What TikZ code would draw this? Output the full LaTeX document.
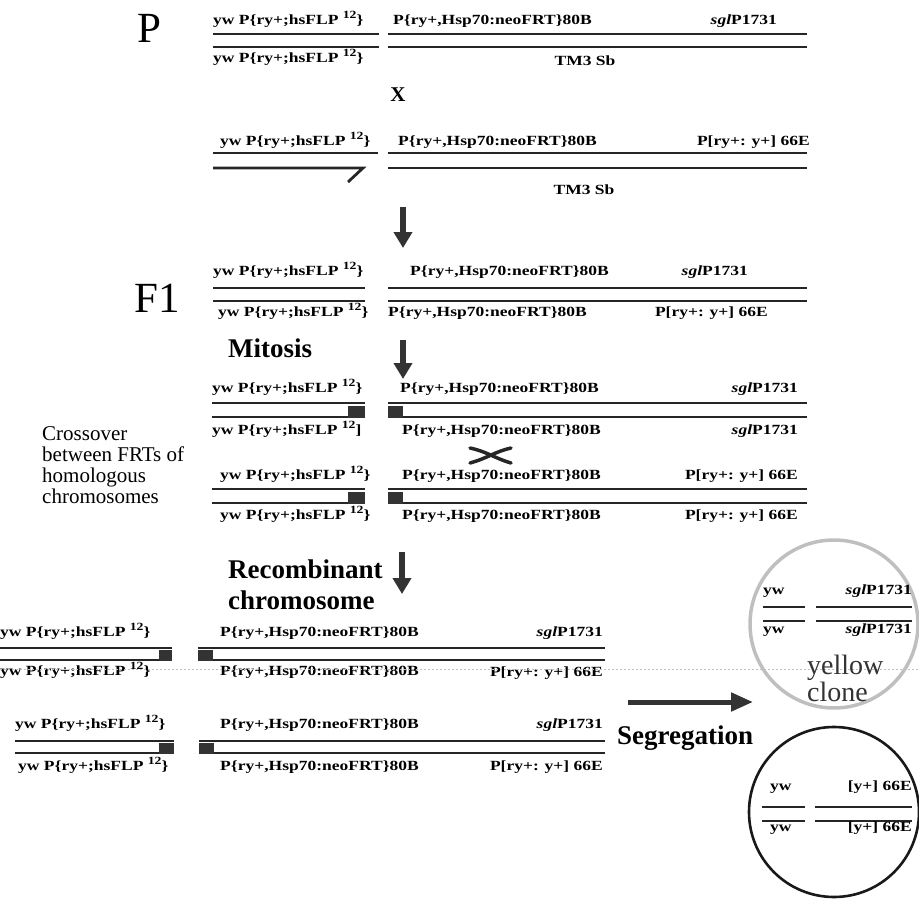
\documentclass[tikz,border=0pt]{standalone}
\usepackage{fontspec}
\setmainfont{Liberation Serif}
\newfontfamily\genefont[FakeStretch=1.25]{Liberation Serif}
\usetikzlibrary{arrows.meta}
% genotype strings
\newcommand\sups[1]{\raisebox{0.4em}{\fontsize{11}{11}\selectfont #1}}
\newcommand\ywflp{yw P\{ry+;hsFLP \sups{12}\}}
\newcommand\neofrt{P\{ry+,Hsp70:neoFRT\}80B}
\newcommand\sglp{\textit{sgl}P1731}
\newcommand\ryE{P[ry+: y+] 66E}
\begin{document}
\begin{tikzpicture}[x=1pt,y=-1pt,
  gene/.style={font=\genefont\bfseries\fontsize{14}{16}\selectfont, inner sep=0pt},
  chrom/.style={line width=2.8pt, draw=black!85},
  frt/.style={fill=black!80, draw=none},
  heading/.style={font=\bfseries\fontsize{27}{30}\selectfont, inner sep=0pt},
  gen/.style={font=\fontsize{43}{48}\selectfont, inner sep=0pt},
  note/.style={font=\fontsize{21}{21}\selectfont, inner sep=0pt},
  down/.style={line width=6pt, draw=black!80, -{Triangle[length=16pt,width=18pt]}},
  clone/.style={font=\fontsize{28}{22}\selectfont, inner sep=0pt, text=black!80}]
\useasboundingbox (0,0) rectangle (919,899);

% ---------- parental cross ----------
\node[gen] (P) at (149,28) {P};
\node[gene, anchor=mid west] (pa1) at (213,22) {\ywflp};
\node[gene, anchor=mid west] (pa2) at (393,22) {\neofrt};
\node[gene, anchor=mid east] (pa3) at (777,22) {\sglp};
\draw[chrom] (213,34) -- (379,34) (213,47) -- (379,47);
\draw[chrom] (388,34) -- (807,34) (388,47) -- (807,47);
\node[gene, anchor=mid west] (pb1) at (213,60) {\ywflp};
\node[gene] (pb2) at (585,61) {TM3 Sb};

\node[font=\bfseries\fontsize{21}{21}\selectfont, inner sep=0pt] (cross) at (398,95) {X};

\node[gene, anchor=mid west] (qa1) at (220,143) {\ywflp};
\node[gene, anchor=mid west] (qa2) at (398,143) {\neofrt};
\node[gene, anchor=mid east] (qa3) at (810,143) {\ryE};
\draw[chrom] (213,153) -- (378,153);
\draw[chrom, line join=miter] (213,168) -- (363,168) -- (348,182);
\draw[chrom] (388,153) -- (807,153) (388,168) -- (807,168);
\node[gene] (qb2) at (584,190) {TM3 Sb};

\coordinate (a1s) at (403,207);
\coordinate (a1e) at (403,248);
\draw[down] (a1s) -- (a1e);

% ---------- F1 ----------
\node[gen] (F1) at (157,298) {F1};
\node[gene, anchor=mid west] (fa1) at (213,273) {\ywflp};
\node[gene, anchor=mid west] (fa2) at (410,273) {\neofrt};
\node[gene, anchor=mid east] (fa3) at (748,273) {\sglp};
\draw[chrom] (213,288) -- (365,288) (213,301) -- (365,301);
\draw[chrom] (388,288) -- (807,288) (388,301) -- (807,301);
\node[gene, anchor=mid west] (fb1) at (218,314) {\ywflp};
\node[gene, anchor=mid west] (fb2) at (388,314) {\neofrt};
\node[gene, anchor=mid east] (fb3) at (768,314) {\ryE};

\node[heading, anchor=mid west] (mit) at (228,355) {Mitosis};
\coordinate (a2s) at (403,340);
\coordinate (a2e) at (403,379);
\draw[down] (a2s) -- (a2e);

% ---------- mitotic recombination ----------
\node[note, anchor=base west] (co1) at (42,440) {Crossover};
\node[note, anchor=base west] (co2) at (42,461) {between FRTs of};
\node[note, anchor=base west] (co3) at (42,482) {homologous};
\node[note, anchor=base west] (co4) at (42,503) {chromosomes};

\node[gene, anchor=mid west] (ma1) at (212,390) {\ywflp};
\node[gene, anchor=mid west] (ma2) at (400,390) {\neofrt};
\node[gene, anchor=mid east] (ma3) at (798,390) {\sglp};
\draw[chrom] (212,403) -- (365,403) (212,417) -- (365,417);
\draw[chrom] (388,403) -- (807,403) (388,417) -- (807,417);
\fill[frt] (348,406) rectangle (365,418);
\fill[frt] (388,406) rectangle (403,418);
\node[gene, anchor=mid west] (mb1) at (212,432) {yw P\{ry+;hsFLP \sups{12}]};
\node[gene, anchor=mid west] (mb2) at (402,432) {\neofrt};
\node[gene, anchor=mid east] (mb3) at (798,432) {\sglp};

\draw[line width=3.5pt, black!85, line cap=round] (470,448) .. controls (488,452) and (494,458) .. (511,463);
\draw[line width=3.5pt, black!85, line cap=round] (470,463) .. controls (488,458) and (494,452) .. (511,448);

\node[gene, anchor=mid west] (mc1) at (220,477) {\ywflp};
\node[gene, anchor=mid west] (mc2) at (402,477) {\neofrt};
\node[gene, anchor=mid east] (mc3) at (798,477) {\ryE};
\draw[chrom] (212,489) -- (365,489) (212,503) -- (365,503);
\draw[chrom] (388,489) -- (807,489) (388,503) -- (807,503);
\fill[frt] (348,492) rectangle (365,504);
\fill[frt] (388,492) rectangle (403,504);
\node[gene, anchor=mid west] (md1) at (220,517) {\ywflp};
\node[gene, anchor=mid west] (md2) at (402,517) {\neofrt};
\node[gene, anchor=mid east] (md3) at (798,517) {\ryE};

\node[heading, anchor=base west] (rec1) at (228,578) {Recombinant};
\node[heading, anchor=base west] (rec2) at (228,609) {chromosome};
\coordinate (a3s) at (402,552);
\coordinate (a3e) at (402,594);
\draw[down] (a3s) -- (a3e);

% ---------- recombinant chromosomes ----------
\node[gene, anchor=mid west] (ra1) at (0,634) {\ywflp};
\node[gene, anchor=mid west] (ra2) at (220,634) {\neofrt};
\node[gene, anchor=mid east] (ra3) at (603,634) {\sglp};
\draw[chrom] (0,648) -- (172,648) (0,660) -- (172,660);
\draw[chrom] (198,648) -- (605,648) (198,660) -- (605,660);
\fill[frt] (159,650) rectangle (172,661);
\fill[frt] (198,650) rectangle (213,661);
\node[gene, anchor=mid west] (rb1) at (0,673) {\ywflp};
\node[gene, anchor=mid west] (rb2) at (220,673) {\neofrt};
\node[gene, anchor=mid east] (rb3) at (603,674) {\ryE};

\node[gene, anchor=mid west] (rc1) at (15,726) {\ywflp};
\node[gene, anchor=mid west] (rc2) at (220,726) {\neofrt};
\node[gene, anchor=mid east] (rc3) at (603,726) {\sglp};
\draw[chrom] (15,741) -- (174,741) (15,753) -- (174,753);
\draw[chrom] (199,741) -- (605,741) (199,753) -- (605,753);
\fill[frt] (159,743) rectangle (174,754);
\fill[frt] (199,743) rectangle (214,754);
\node[gene, anchor=mid west] (rd1) at (18,768) {\ywflp};
\node[gene, anchor=mid west] (rd2) at (220,768) {\neofrt};
\node[gene, anchor=mid east] (rd3) at (603,768) {\ryE};

% faint dotted rule across the page
\draw[gray!50, line width=1pt, dash pattern=on 2pt off 2pt] (0,669) -- (919,669);

% ---------- segregation ----------
\coordinate (sgs) at (628,702);
\coordinate (sge) at (753,702);
\draw[line width=5pt, draw=black!80, -{Triangle[length=22pt,width=18pt]}] (sgs) -- (sge);
\node[heading, anchor=mid west] (seg) at (617,742) {Segregation};

% yellow clone
\draw[gray!50, line width=3.5pt] (834,624) circle[radius=84pt];
\node[gene, anchor=mid west] (y1) at (763,592) {yw};
\node[gene, anchor=mid east] (y2) at (912,592) {\sglp};
\draw[chrom] (763,607) -- (805,607) (763,621) -- (805,621);
\draw[chrom] (816,607) -- (912,607) (816,621) -- (912,621);
\node[gene, anchor=mid west] (y3) at (763,631) {yw};
\node[gene, anchor=mid east] (y4) at (912,631) {\sglp};
\node[clone, align=left, anchor=north west] (yc) at (807,655) {yellow\\clone};

% wild-type twin clone
\draw[black!90, line width=2.6pt] (834,812) circle[radius=85pt];
\node[gene, anchor=mid west] (w1) at (770,788) {yw};
\node[gene, anchor=mid east] (w2) at (912,788) {[y+] 66E};
\draw[chrom] (762,807) -- (805,807) (762,821) -- (805,821);
\draw[chrom] (815,807) -- (912,807) (815,821) -- (912,821);
\node[gene, anchor=mid west] (w3) at (770,829) {yw};
\node[gene, anchor=mid east] (w4) at (912,829) {[y+] 66E};
\end{tikzpicture}
\end{document}
